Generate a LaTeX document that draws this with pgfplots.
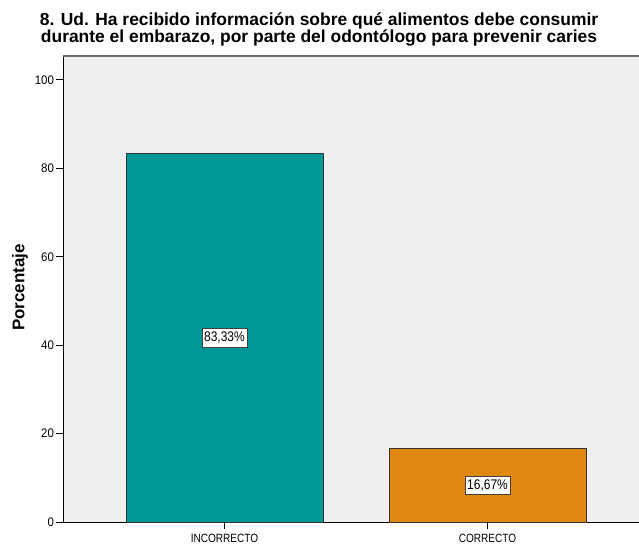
\documentclass[border=0pt]{standalone}
\usepackage{fontspec}
\setmainfont{Liberation Sans}
\newfontfamily\tfont{Liberation Sans}[FakeStretch=0.84]
\newfontfamily\yfont{Liberation Sans}[FakeStretch=0.92]
\newfontfamily\lfont{Liberation Sans}[FakeStretch=0.86]
\usepackage{pgfplots}
\pgfplotsset{compat=1.18}
\definecolor{bgc}{HTML}{EFEFEF}
\definecolor{tealc}{HTML}{009896}
\definecolor{orc}{HTML}{E0880F}
\begin{document}
\begin{tikzpicture}
\begin{axis}[
  name=ax,
  scale only axis,
  width=576bp, height=466bp,
  xmin=-0.614, xmax=1.576,
  ymin=0, ymax=105.4,
  ybar, bar width=0.749, bar shift=0pt,
  axis background/.style={fill=bgc},
  axis x line*=bottom, axis y line*=left,
  axis line style={black, line width=0.8pt},
  xtick={0,1}, xticklabels={INCORRECTO,CORRECTO},
  ytick={0,20,40,60,80,100},
  tick align=outside,
  major tick length=7bp,
  tick style={black, line width=0.8pt},
  x tick label style={font=\tfont\fontsize{12}{14}\selectfont, yshift=-2bp},
  y tick label style={font=\yfont\fontsize{12.5}{14}\selectfont, xshift=1.5bp},
  /pgf/number format/assume math mode=true,
  clip=false,
  nodes near coords style={font=\lfont\fontsize{14}{16}\selectfont, fill=white, draw=black!75, inner xsep=2bp, inner ysep=3.5bp, anchor=center},
]
\addplot[fill=tealc, draw=black!80, line width=0.6pt] coordinates {(0,83.33)};
\addplot[fill=orc, draw=black!80, line width=0.6pt] coordinates {(1,16.67)};
\addplot[draw=none, fill=none, forget plot, nodes near coords, point meta=explicit symbolic]
  coordinates {(0,41.665)[83,33\%] (1,8.335)[16,67\%]};
\draw[gray!85!black, line width=1.6pt] (rel axis cs:0,1) -- (rel axis cs:1,1);
\end{axis}
\node[anchor=base, font=\bfseries\fontsize{17.5}{19}\selectfont] at ([shift={(256bp,496bp)}]ax.south west) {8. Ud. Ha recibido información sobre qué alimentos debe consumir};
\node[anchor=base, font=\bfseries\fontsize{17.5}{19}\selectfont] at ([shift={(256bp,479bp)}]ax.south west) {durante el embarazo, por parte del odontólogo para prevenir caries};
\node[font=\bfseries\fontsize{17}{19}\selectfont, rotate=90] at ([shift={(-43bp,234.5bp)}]ax.south west) {Porcentaje};
\pgfresetboundingbox
\path ([shift={(-63bp,-24bp)}]ax.south west) rectangle ([shift={(0bp,56bp)}]ax.north east);
\end{tikzpicture}
\end{document}
